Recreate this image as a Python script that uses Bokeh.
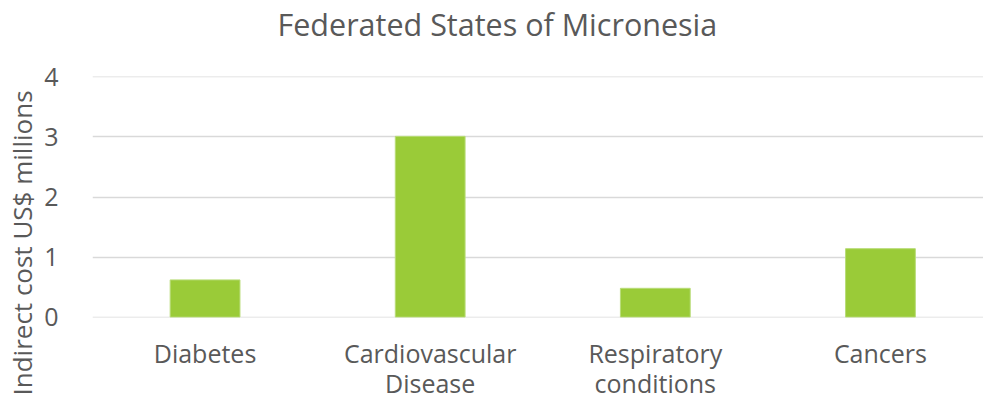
from bokeh.plotting import figure
from bokeh.models import Range1d, FixedTicker, Title
from bokeh.embed import file_html
from bokeh.resources import INLINE

categories = ["Diabetes", "Cardiovascular\nDisease", "Respiratory\nconditions", "Cancers"]
values = [0.62, 3.01, 0.48, 1.14]
y_ticks = [0, 1, 2, 3, 4]
title_text = "Federated States of Micronesia"
y_title = "Indirect cost US$ millions"

FONT = "Open Sans"
GREY = "#595959"

xs = list(range(len(categories)))

p = figure(
    output_backend="svg", toolbar_location=None,
    width=983, height=403,
    frame_width=891, frame_height=241,
    min_border_left=92, min_border_right=0, min_border_top=76, min_border_bottom=4,
    x_range=Range1d(-0.5, len(categories) - 0.5 - 9.5 / 225),
    y_range=Range1d(-0.006, 4.006),
    title=None,
)
p.outline_line_color = None
p.background_fill_color = "white"
p.border_fill_color = "white"

p.vbar(x=xs, top=values, width=0.31, bottom=0, fill_color="#9ACB38", line_color="#B8DC78", line_width=1)

t = Title(text=title_text + "\n", align="left", offset=185, standoff=0,
          text_font=FONT, text_font_size="30.5px", text_color=GREY, text_font_style="normal",
          text_line_height=0.76)
p.add_layout(t, "above")

yt = Title(text=y_title, align="left", offset=-78, standoff=3,
           text_font=FONT, text_font_size="26px", text_color=GREY, text_font_style="normal")
p.add_layout(yt, "left")

p.xaxis.ticker = FixedTicker(ticks=xs)
p.xaxis.major_label_overrides = {i: c for i, c in zip(xs, categories)}
p.xaxis.major_label_text_font = FONT
p.xaxis.major_label_text_font_size = "25px"
p.xaxis.major_label_text_color = GREY
p.xaxis.major_label_text_line_height = 0.9
p.xaxis.major_label_standoff = 12
p.xaxis.axis_line_color = None
p.xaxis.major_tick_line_color = None
p.xaxis.minor_tick_line_color = None

p.yaxis.ticker = FixedTicker(ticks=y_ticks)
p.yaxis.major_label_text_font = FONT
p.yaxis.major_label_text_font_size = "25px"
p.yaxis.major_label_text_color = GREY
p.yaxis.major_label_standoff = 28
p.yaxis.axis_line_color = None
p.yaxis.major_tick_line_color = None
p.yaxis.minor_tick_line_color = None

p.xgrid.grid_line_color = None
p.ygrid.ticker = FixedTicker(ticks=y_ticks)
p.ygrid.grid_line_color = "#D9D9D9"
p.ygrid.grid_line_width = 1.5

open("out.html", "w").write(file_html(p, INLINE))
